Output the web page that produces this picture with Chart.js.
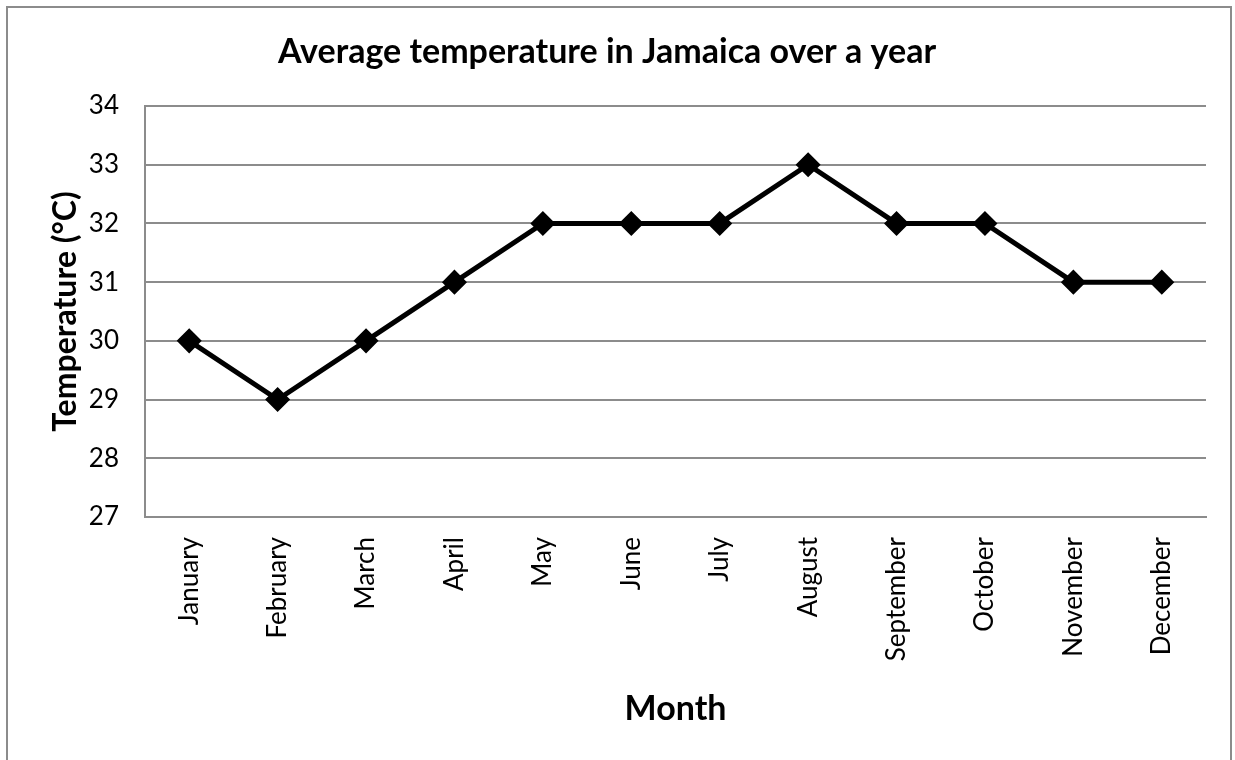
<!DOCTYPE html>
<html>
<head>
<meta charset="utf-8">
<script src="https://cdn.jsdelivr.net/npm/chart.js@4"></script>
<style>
  html, body { margin: 0; padding: 0; background: #fff; overflow: hidden; }
  #box {
    position: absolute; left: 6px; top: 6px;
    width: 1222px; height: 760px;
    border: 2px solid #8c8c8c; background: #fff;
  }
  #myChart { display: block; }
</style>
</head>
<body>
<div id="box"><canvas id="myChart" width="1222" height="752"></canvas></div>
<script>
// Dados do gráfico
const meses = ['January', 'February', 'March', 'April', 'May', 'June',
               'July', 'August', 'September', 'October', 'November', 'December'];
const temperaturas = [30, 29, 30, 31, 32, 32, 32, 33, 32, 32, 31, 31];
const yMin = 27;
const yMax = 34;

const fonte = 'Lato, "Open Sans", sans-serif';
const cinza = '#8c8c8c';

var ctx = document.getElementById('myChart');
var myChart = new Chart(ctx, {
    type: 'line',
    data: {
        labels: meses,
        datasets: [{
            label: 'Temperature',
            data: temperaturas,
            borderColor: '#000',
            backgroundColor: '#000',
            borderWidth: 5,
            pointStyle: 'rectRot',
            pointRadius: 9,
            pointHoverRadius: 9,
            tension: 0
        }]
    },
    options: {
        responsive: false,
        animation: false,
        layout: { padding: { left: 0, right: 24, top: 0, bottom: 0 } },
        plugins: {
            legend: { display: false },
            tooltip: { enabled: false },
            title: {
                display: true,
                text: 'Average temperature in Jamaica over a year',
                color: '#000',
                font: { family: fonte, size: 34, weight: 'bold' },
                padding: { top: 23.6, bottom: 33.6 }
            }
        },
        scales: {
            x: {
                offset: true,
                grid: { display: false, drawTicks: false },
                border: { display: true, color: cinza, width: 2 },
                ticks: {
                    color: '#000',
                    font: { family: fonte, size: 26 },
                    minRotation: 90,
                    maxRotation: 90,
                    padding: 20
                },
                title: {
                    display: true,
                    text: 'Month',
                    color: '#000',
                    font: { family: fonte, size: 34, weight: 'bold' },
                    padding: { top: 0, bottom: 30.6 }
                },
                afterFit: function (scale) { scale.height = 243; }
            },
            y: {
                min: yMin,
                max: yMax,
                grid: { color: cinza, lineWidth: 2, drawTicks: false },
                border: { display: true, color: cinza, width: 2 },
                ticks: {
                    stepSize: 1,
                    color: '#000',
                    font: { family: fonte, size: 26 },
                    padding: 26
                },
                title: {
                    display: true,
                    text: 'Temperature (°C)',
                    color: '#000',
                    font: { family: fonte, size: 32, weight: 'bold' },
                    padding: { top: 38.8, bottom: 0 }
                },
                afterFit: function (scale) { scale.width = 137; }
            }
        }
    }
});
</script>
</body>
</html>
